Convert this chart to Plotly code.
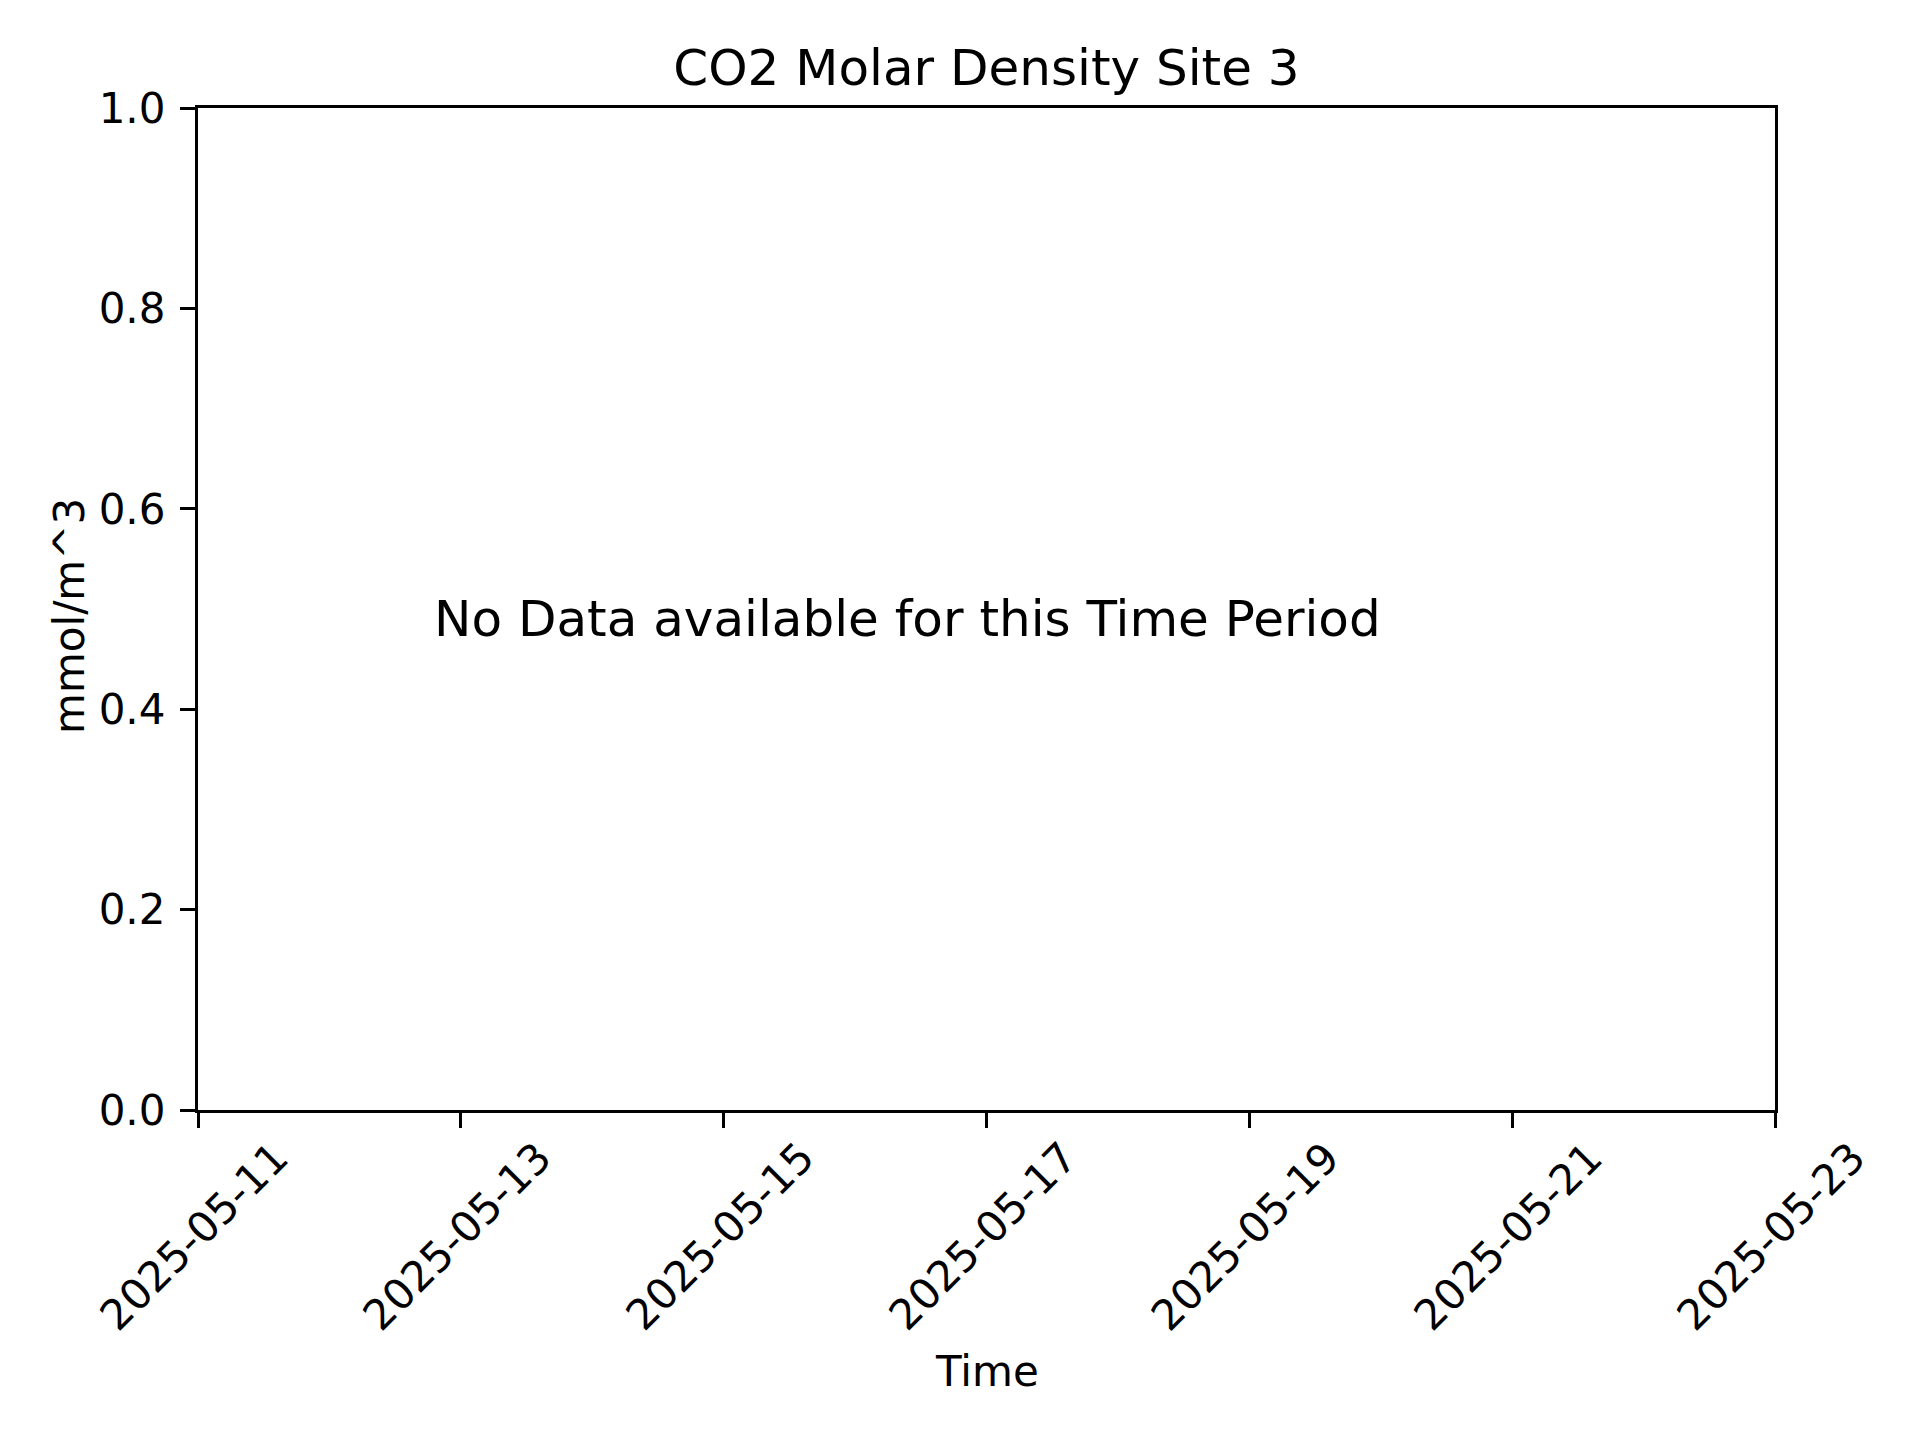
import plotly.graph_objects as go

# ---- data (none available for this period) ----
times = []
values = []
x_tick_dates = ["2025-05-11", "2025-05-13", "2025-05-15", "2025-05-17",
                "2025-05-19", "2025-05-21", "2025-05-23"]
y_tick_vals = [0.0, 0.2, 0.4, 0.6, 0.8, 1.0]
y_tick_text = ["0.0", "0.2", "0.4", "0.6", "0.8", "1.0"]
x_range = ["2025-05-11", "2025-05-23"]
y_range = [0.0, 1.0]
title_text = "CO2 Molar Density Site 3"
x_title = "Time"
y_title = "mmol/m^3"
message = "No Data available for this Time Period"

FONT = "DejaVu Sans"
W, H = 1920, 1440
OFF = 8  # page body margin
L, R, T, B = 198 - OFF, 1920 - 1775 + OFF, 108 - OFF, 1440 - 1110 + OFF
PW = 1775 - 198
PH = 1110 - 108

fig = go.Figure()
fig.add_trace(go.Scatter(x=times, y=values, mode="lines",
                         line=dict(color="#1f77b4"), showlegend=False))

annotations = []
# rotated x tick labels, centred under each tick (matplotlib style)
for d in x_tick_dates:
    annotations.append(dict(
        x=d, xref="x", y=0, yref="paper",
        text=d, showarrow=False, textangle=-45,
        xanchor="center", yanchor="top", yshift=-20, xshift=-4,
        font=dict(family=FONT, size=42, color="black"),
    ))
annotations.append(dict(
    x=0.45, xref="paper", y=0.49, yref="paper",
    text=message, showarrow=False, xanchor="center", yanchor="middle",
    font=dict(family=FONT, size=50, color="black"),
))
# axis titles
annotations.append(dict(
    x=0.5, xref="paper", y=-(1371 - 1110) / PH, yref="paper",
    text=x_title, showarrow=False, xanchor="center", yanchor="middle",
    font=dict(family=FONT, size=42, color="black"),
))
annotations.append(dict(
    x=(69 - 198) / PW, xref="paper", y=0.5, yref="paper", yshift=-7,
    text=y_title, showarrow=False, textangle=-90,
    xanchor="center", yanchor="middle",
    font=dict(family=FONT, size=42, color="black"),
))

fig.update_layout(
    width=W, height=H,
    margin=dict(l=L, r=R, t=T, b=B, pad=0),
    paper_bgcolor="white", plot_bgcolor="white",
    font=dict(family=FONT, size=42, color="black"),
    title=dict(text=title_text, x=(198 + 1775) / 2 / W - OFF / W,
               xanchor="center",
               y=1 - (67 - OFF) / H, yanchor="middle", yref="container",
               font=dict(family=FONT, size=50, color="black")),
    annotations=annotations,
    showlegend=False,
)
fig.update_xaxes(
    type="date", range=x_range,
    tickvals=x_tick_dates, ticktext=x_tick_dates, showticklabels=False,
    ticks="outside", ticklen=15, tickwidth=3.3, tickcolor="black",
    showline=True, linecolor="black", linewidth=3.3, mirror=True,
    showgrid=False, zeroline=False,
)
fig.update_yaxes(
    range=y_range, tickvals=y_tick_vals, ticktext=y_tick_text,
    ticks="outside", ticklen=15, tickwidth=3.3, tickcolor="black",
    ticklabelstandoff=6,
    tickfont=dict(family=FONT, size=42, color="black"),
    showline=True, linecolor="black", linewidth=3.3, mirror=True,
    showgrid=False, zeroline=False,
)

fig.write_html("out.html")
